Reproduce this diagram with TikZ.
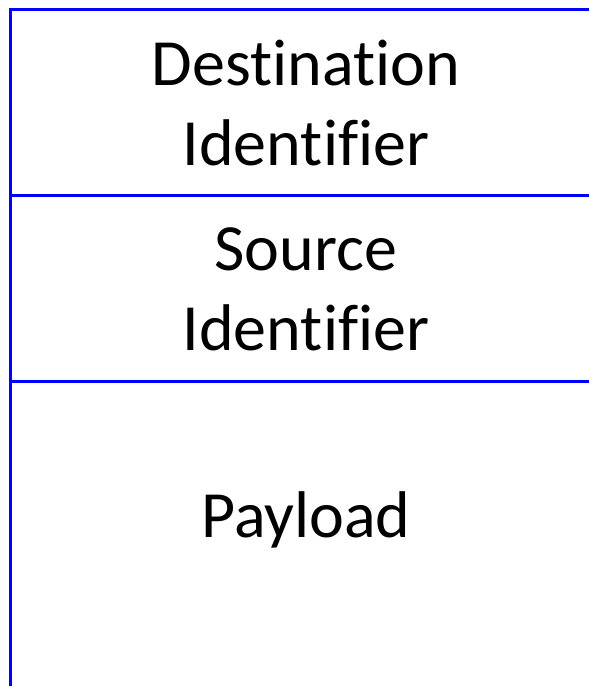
\documentclass[tikz,border=0pt]{standalone}
\usepackage{fontspec}
\setmainfont{Carlito}[Ligatures={NoCommon}]

\begin{document}
\begin{tikzpicture}[x=1pt,y=1pt,frame line/.style={draw=blue,line width=3pt},field node/.style={align=center,inner sep=0pt,font=\fontsize{66}{80}\selectfont}]
  \useasboundingbox (0,0) rectangle (589,686);
  \coordinate (topleft) at (10,676);
  \coordinate (topright) at (589,676);
  \coordinate (bottomleft) at (10,0);
  \coordinate (mid1left) at (10,490);
  \coordinate (mid1right) at (589,490);
  \coordinate (mid2left) at (10,304);
  \coordinate (mid2right) at (589,304);

  \node[field node] (dest) at (306,583) {Destination\\Identifier};
  \node[field node] (src) at (306,397) {Source\\Identifier};
  \node[field node] (payload) at (306,166) {Payload};

  \draw[frame line] (bottomleft) -- (topleft) -- (topright);
  \draw[frame line] (mid1left) -- (mid1right);
  \draw[frame line] (mid2left) -- (mid2right);
\end{tikzpicture}
\end{document}
